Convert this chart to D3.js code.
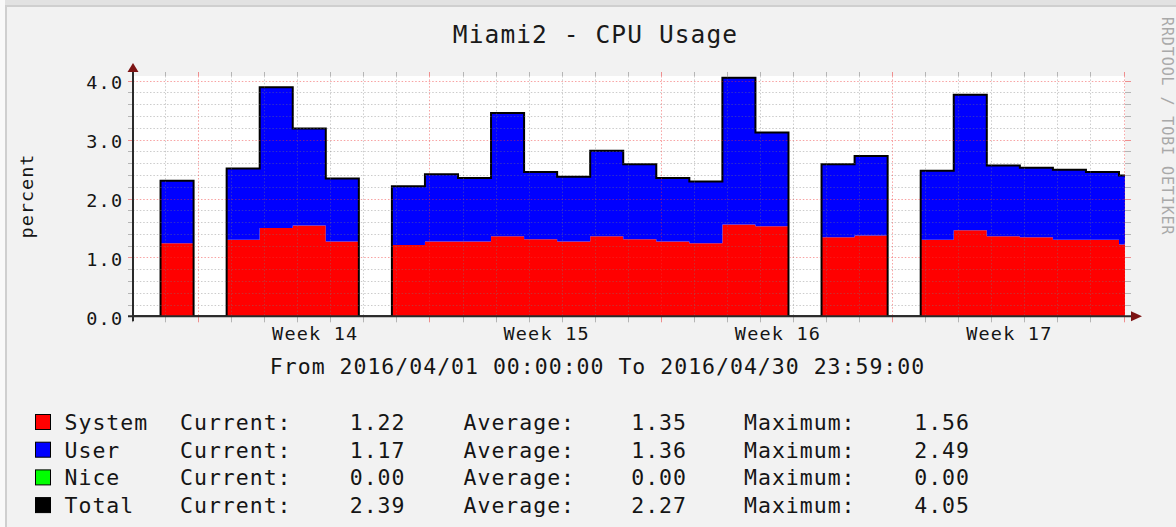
<!DOCTYPE html>
<html>
<head>
<meta charset="utf-8">
<script src="https://cdn.jsdelivr.net/npm/d3@7"></script>
<style>
  body { margin: 0; background: #fff; }
  svg text { font-family: "DejaVu Sans Mono", monospace; }
</style>
</head>
<body>
<svg id="chart" width="1176" height="527"></svg>
<script>
// daily buckets, first one starts Apr 1 20:00 (UTC day boundary in local EDT)
var bucketStart = "2016-04-01T20:00:00Z";
var system = [1.24, null, 1.30, 1.50, 1.54, 1.27, null, 1.21, 1.27, 1.27, 1.36, 1.31, 1.27, 1.36, 1.31,
              1.27, 1.24, 1.56, 1.53, null, 1.34, 1.37, null, 1.30, 1.46, 1.36, 1.34, 1.30, 1.30, 1.22];
var user   = [1.06, null, 1.21, 2.39, 1.65, 1.07, null, 1.00, 1.14, 1.08, 2.09, 1.14, 1.10, 1.45, 1.27,
              1.08, 1.05, 2.49, 1.59, null, 1.24, 1.35, null, 1.17, 2.30, 1.20, 1.18, 1.19, 1.15, 1.17];
var nice   = [0, null, 0, 0, 0, 0, null, 0, 0, 0, 0, 0, 0, 0, 0,
              0, 0, 0, 0, null, 0, 0, null, 0, 0, 0, 0, 0, 0, 0];

var yLabels = [0, 1, 2, 3, 4];
var weekStarts = ["2016-04-03T00:00:00Z", "2016-04-10T00:00:00Z", "2016-04-17T00:00:00Z", "2016-04-24T00:00:00Z"];
var weekLabels = ["Week 14", "Week 15", "Week 16", "Week 17"];

var legendNames = ["System", "User", "Nice", "Total"];
var currentVals = [1.22, 1.17, 0.00, 2.39];
var averageVals = [1.35, 1.36, 0.00, 2.27];
var maximumVals = [1.56, 2.49, 0.00, 4.05];

var title = "Miami2 - CPU Usage";
var rangeText = "From 2016/04/01 00:00:00 To 2016/04/30 23:59:00";
var yTitle = "percent";
var watermark = "RRDTOOL / TOBI OETIKER";

var color = d3.scaleOrdinal().domain(legendNames).range(["#ff0000", "#0000ff", "#00ff00", "#000000"]);

var svg = d3.select("#chart");

// plot box
var px0 = 133, px1 = 1125, py0 = 76, py1 = 316.3;

var x = d3.scaleUtc()
    .domain([new Date("2016-04-01T00:00:00Z"), new Date("2016-05-01T00:00:00Z")])
    .range([133, 1124.5]);
var y = d3.scaleLinear().domain([0, 4]).range([316.3, 80.7]);

// background + frame
svg.append("rect").attr("width", 1176).attr("height", 527).attr("fill", "#f2f2f2");
svg.append("rect").attr("width", 1176).attr("height", 5).attr("fill", "#e2e2e2");
svg.append("rect").attr("y", 5).attr("width", 1176).attr("height", 2).attr("fill", "#cfcfcf");
svg.append("rect").attr("width", 5).attr("height", 527).attr("fill", "#f9f9f9");
svg.append("rect").attr("x", 5).attr("y", 5).attr("width", 2).attr("height", 522).attr("fill", "#cfcfcf");

svg.append("rect")
    .attr("x", px0).attr("y", py0)
    .attr("width", px1 - px0).attr("height", py1 - py0)
    .attr("fill", "#ffffff");

svg.append("clipPath").attr("id", "plotclip")
  .append("rect")
    .attr("x", px0).attr("y", py0 - 2)
    .attr("width", px1 - px0).attr("height", py1 - py0 + 2);

// stacked areas
var t0 = new Date(bucketStart);
var rows = system.map(function(s, i) {
  return {
    t0: d3.utcDay.offset(t0, i),
    t1: d3.utcDay.offset(t0, i + 1),
    System: s, User: user[i], Nice: nice[i],
    defined: s != null
  };
});

var stack = d3.stack()
    .keys(["System", "User", "Nice"])
    .value(function(d, k) { return d[k] == null ? 0 : d[k]; });
var series = stack(rows);

var area = d3.area()
    .defined(function(d) { return d != null; })
    .x(function(d) { return x(d.t); })
    .y0(function(d) { return y(d.y0); })
    .y1(function(d) { return y(d.y1); });

var plot = svg.append("g").attr("clip-path", "url(#plotclip)");

series.forEach(function(s) {
  var pts = [];
  s.forEach(function(p, i) {
    var r = rows[i];
    if (!r.defined) { pts.push(null); return; }
    pts.push({t: r.t0, y0: p[0], y1: p[1]});
    pts.push({t: r.t1, y0: p[0], y1: p[1]});
  });
  plot.append("path")
      .datum(pts)
      .attr("fill", color(s.key))
      .attr("d", area);
});

// grid (drawn over the areas like rrdtool does)
var grid = svg.append("g");
var dash = "1.5,1.9";
var minorCol = "rgba(120,120,120,0.38)", majorCol = "rgba(240,50,50,0.45)";
var majorTickCol = "rgba(235,60,60,0.55)", minorTickCol = "rgba(120,120,120,0.5)";

var yMinor = y.ticks(20).filter(function(v) { return Math.abs(v - Math.round(v)) > 1e-6; });
var yMajor = yLabels.filter(function(v) { return v > 0; });

function hLines(vals, col, tickCol) {
  vals.forEach(function(v) {
    var yy = Math.round(y(v)) + 0.5;
    grid.append("line").attr("x1", px0).attr("x2", px1).attr("y1", yy).attr("y2", yy)
        .attr("stroke", col).attr("stroke-dasharray", dash);
    grid.append("line").attr("x1", px0 - 5).attr("x2", px0).attr("y1", yy).attr("y2", yy)
        .attr("stroke", tickCol);
    grid.append("line").attr("x1", px1).attr("x2", px1 + 6).attr("y1", yy).attr("y2", yy)
        .attr("stroke", tickCol);
  });
}
hLines(yMinor, minorCol, minorTickCol);
hLines(yMajor, majorCol, majorTickCol);

var xEnd = d3.utcDay.offset(x.domain()[1], 1);
var sundays = d3.utcSunday.range(x.domain()[0], xEnd).map(function(d) { return +d; });
var days = d3.utcDay.range(x.domain()[0], xEnd);

days.forEach(function(d) {
  var major = sundays.indexOf(+d) >= 0;
  var xx = Math.round(x(d)) - 0.5;
  if (+d !== +x.domain()[0]) {
    grid.append("line").attr("x1", xx).attr("x2", xx).attr("y1", py0).attr("y2", py1)
        .attr("stroke", major ? majorCol : minorCol).attr("stroke-dasharray", dash);
  }
  grid.append("line").attr("x1", xx).attr("x2", xx).attr("y1", py0 - 4).attr("y2", py0)
      .attr("stroke", major ? majorTickCol : minorTickCol);
  grid.append("line").attr("x1", xx).attr("x2", xx).attr("y1", py1).attr("y2", py1 + 6)
      .attr("stroke", major ? majorTickCol : minorTickCol);
});

// total line (unknown treated as zero)
var totalPts = [{t: x.domain()[0], v: 0}, {t: t0, v: 0}];
rows.forEach(function(r) {
  var v = r.defined ? r.System + r.User + r.Nice : 0;
  totalPts.push({t: r.t0, v: v});
  totalPts.push({t: r.t1, v: v});
});
plot.append("path")
    .datum(totalPts)
    .attr("fill", "none")
    .attr("stroke", "#000")
    .attr("stroke-width", 2)
    .attr("d", d3.line().x(function(d) { return x(d.t); }).y(function(d) { return y(d.v); }));

// axes lines + arrows
var axisCol = "#2a2a2a", arrowCol = "#7d1414";
svg.append("line").attr("x1", px0 - 5).attr("x2", px1 + 7).attr("y1", py1).attr("y2", py1)
    .attr("stroke", axisCol).attr("stroke-width", 2);
svg.append("line").attr("x1", px0).attr("x2", px0).attr("y1", py1 + 5).attr("y2", py0 - 5)
    .attr("stroke", axisCol).attr("stroke-width", 2);
svg.append("path")
    .attr("d", "M" + (px1 + 6) + "," + (py1 - 5) + "L" + (px1 + 17) + "," + py1 + "L" + (px1 + 6) + "," + (py1 + 5) + "Z")
    .attr("fill", arrowCol);
svg.append("path")
    .attr("d", "M" + (px0 - 5.5) + "," + (py0 - 4) + "L" + px0 + "," + (py0 - 13) + "L" + (px0 + 5.5) + "," + (py0 - 4) + "Z")
    .attr("fill", arrowCol);

// y axis labels
var yAxis = svg.append("g")
    .attr("transform", "translate(" + px0 + ",0)")
    .call(d3.axisLeft(y).tickValues(yLabels).tickFormat(d3.format(".1f")).tickSize(0).tickPadding(9.5));
yAxis.select(".domain").remove();
yAxis.attr("font-family", null).attr("font-size", null);
yAxis.selectAll("text")
    .attr("dy", "0.43em")
    .attr("font-size", 18.5)
    .style("letter-spacing", "1.3px")
    .attr("fill", "#151515");

// week labels
var weekMid = weekStarts.map(function(s) { return d3.utcHour.offset(new Date(s), 84); });
var xAxis = svg.append("g")
    .attr("transform", "translate(0," + py1 + ")")
    .call(d3.axisBottom(x).tickValues(weekMid)
      .tickFormat(function(d, i) { return weekLabels[i]; })
      .tickSize(0).tickPadding(10.6));
xAxis.select(".domain").remove();
xAxis.attr("font-family", null).attr("font-size", null);
xAxis.selectAll("text")
    .attr("font-size", 18.5)
    .style("letter-spacing", "1.2px")
    .attr("fill", "#151515");

// titles
svg.append("text")
    .attr("x", 595.5).attr("y", 42.5)
    .attr("text-anchor", "middle")
    .attr("font-size", 24.5)
    .style("letter-spacing", "1.1px")
    .attr("fill", "#1a1a1a")
    .text(title);

svg.append("text")
    .attr("transform", "translate(33,196) rotate(-90)")
    .attr("text-anchor", "middle")
    .attr("font-size", 18.5)
    .style("letter-spacing", "1px")
    .attr("fill", "#151515")
    .text(yTitle);

svg.append("text")
    .attr("transform", "translate(1162,17) rotate(90)")
    .attr("font-size", 15)
    .style("letter-spacing", "0.9px")
    .attr("fill", "#a9a9a9")
    .text(watermark);

svg.append("text")
    .attr("x", 597.5).attr("y", 374)
    .attr("text-anchor", "middle")
    .attr("font-size", 21.5)
    .style("letter-spacing", "1px")
    .attr("fill", "#151515")
    .text(rangeText);

// legend
var fmt = d3.format(".2f");
var leg = svg.append("g").attr("font-size", 21.5).attr("fill", "#151515").style("letter-spacing", "1px");
legendNames.forEach(function(name, i) {
  var base = 430 + i * 27.7;
  leg.append("rect")
      .attr("x", 35.5).attr("y", base - 15.5)
      .attr("width", 15).attr("height", 15)
      .attr("fill", color(name)).attr("stroke", "#000").attr("stroke-width", 1);
  leg.append("text").attr("x", 64.5).attr("y", base).text(name);
  leg.append("text").attr("x", 180).attr("y", base).text("Current:");
  leg.append("text").attr("x", 405.5).attr("y", base).attr("text-anchor", "end").text(fmt(currentVals[i]));
  leg.append("text").attr("x", 463.5).attr("y", base).text("Average:");
  leg.append("text").attr("x", 687).attr("y", base).attr("text-anchor", "end").text(fmt(averageVals[i]));
  leg.append("text").attr("x", 744).attr("y", base).text("Maximum:");
  leg.append("text").attr("x", 970).attr("y", base).attr("text-anchor", "end").text(fmt(maximumVals[i]));
});
</script>
</body>
</html>
